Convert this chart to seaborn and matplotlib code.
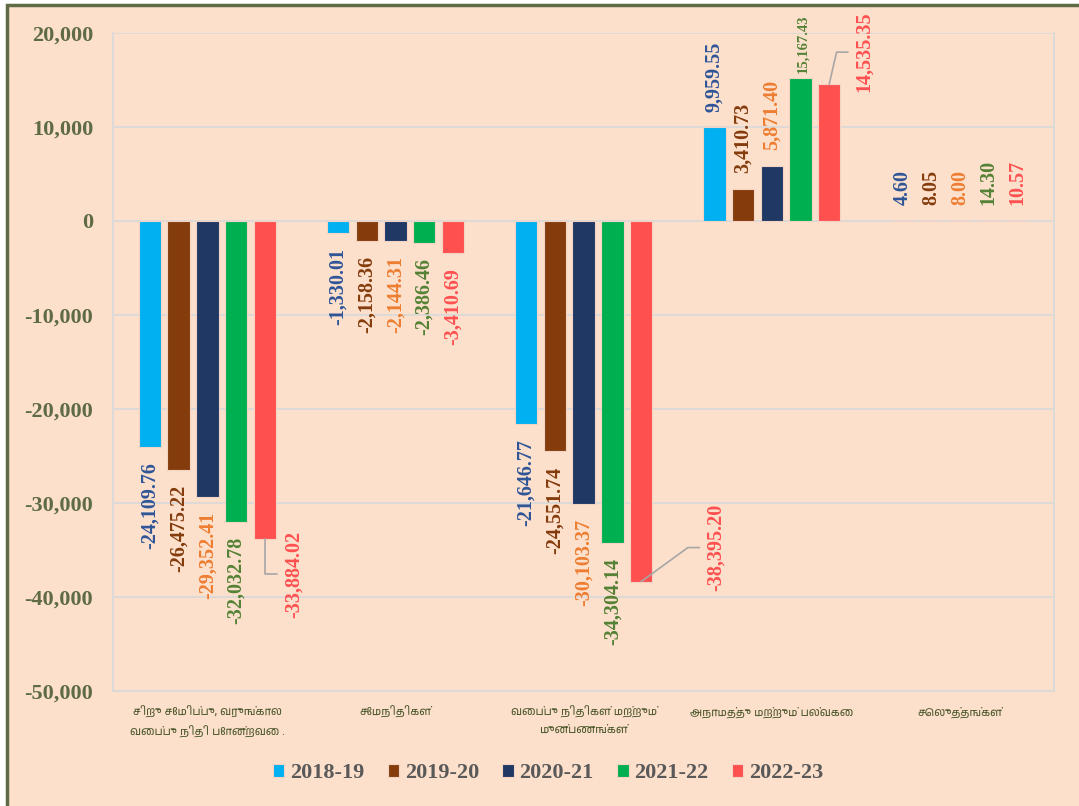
import matplotlib
matplotlib.use("Agg")
import matplotlib.pyplot as plt
import pandas as pd
import seaborn as sns
from matplotlib import font_manager
from matplotlib.ft2font import FT2Font
from matplotlib.patches import Rectangle
from matplotlib.ticker import FuncFormatter

# -----------------------------
# data
# -----------------------------
categories = [
    "சிறு சேமிப்பு, வருங்கால\nவைப்பு நிதி போன்றவை .",
    "சேமநிதிகள்",
    "வைப்பு நிதிகள் மற்றும்\nமுன்பணங்கள்",
    "அநாமத்து மற்றும் பல்வகை",
    "செலுத்தங்கள்",
]
years = ["2018-19", "2019-20", "2020-21", "2021-22", "2022-23"]
v_2018_19 = [-24109.76, -1330.01, -21646.77, 9959.55, 4.60]
v_2019_20 = [-26475.22, -2158.36, -24551.74, 3410.73, 8.05]
v_2020_21 = [-29352.41, -2144.31, -30103.37, 5871.40, 8.00]
v_2021_22 = [-32032.78, -2386.46, -34304.14, 15167.43, 14.30]
v_2022_23 = [-33884.02, -3410.69, -38395.20, 14535.35, 10.57]
series = [v_2018_19, v_2019_20, v_2020_21, v_2021_22, v_2022_23]

bar_colors = ["#00B0F0", "#843C0C", "#203864", "#00B050", "#FF5050"]
label_colors = ["#2F5597", "#843C0C", "#ED7D31", "#548235", "#FF5050"]
peach = "#FDE0CC"
olive = "#5E6B45"
grid_c = "#D9D9D9"

rows = []
for y, vals in zip(years, series):
    for c, v in zip(categories, vals):
        rows.append({"category": c, "year": y, "value": v})
df = pd.DataFrame(rows)

sns.set_style("white")
serif = ["Liberation Serif", "DejaVu Serif"]

# find a font that has Tamil glyphs, if any
tamil = []
for f in font_manager.fontManager.ttflist:
    try:
        if 0x0B9A in FT2Font(f.fname).get_charmap():
            tamil.append(f.name)
    except Exception:
        pass
tamil_family = sorted(set(tamil))[:1] + ["DejaVu Sans"]
plt.rcParams["font.family"] = serif

fig = plt.figure(figsize=(10.79, 8.06), dpi=100)
fig.patch.set_facecolor("white")
fig.add_artist(Rectangle((7.3 / 1079, -0.1), 1.2, 1.1 - 5 / 806,
                         transform=fig.transFigure, facecolor=peach,
                         edgecolor=olive, linewidth=2.5, zorder=0))
ax = fig.add_axes([113.3 / 1079, 1 - 690.7 / 806, 940.7 / 1079, 658 / 806])
ax.set_facecolor("none")

sns.barplot(data=df, x="category", y="value", hue="year", palette=bar_colors,
            saturation=1, width=0.763, gap=0.216, errorbar=None,
            edgecolor="#F3D3C3", linewidth=0.8, ax=ax, zorder=3)

ax.set_ylim(-50000, 20000)
ax.set_yticks(range(-50000, 20001, 10000))
ax.yaxis.set_major_formatter(FuncFormatter(lambda v, p: f"{v:,.0f}"))
ax.grid(axis="y", color=grid_c, linewidth=1.3, zorder=0)
ax.set_axisbelow(True)
for s in ax.spines.values():
    s.set_color(grid_c)
    s.set_linewidth(1.3)
ax.spines["top"].set_visible(False)
ax.tick_params(axis="both", length=0)
ax.tick_params(axis="y", pad=14.5)
ax.tick_params(axis="x", pad=11)
for t in ax.get_yticklabels():
    t.set_fontsize(16)
    t.set_fontweight("bold")
    t.set_color(olive)
for t in ax.get_xticklabels():
    t.set_family(tamil_family)
    t.set_fontsize(8)
    t.set_color("#4F5A2E")
    t.set_linespacing(1.75)
ax.set_xlabel("")
ax.set_ylabel("")

# manually moved labels: (dx, dy) of label and leader elbow, in points
moved = {
    (4, 0): dict(text=(21, 6), elbow=(9, -25), angle=90),
    (4, 2): dict(text=(54, 56), elbow=(42, 24.5), angle=36),
    (4, 3): dict(text=(25, -6), elbow=(13.5, 23), angle=77),
}

for i, cont in enumerate(ax.containers):
    for j, bar in enumerate(cont):
        val = series[i][j]
        x = bar.get_x() + bar.get_width() / 2
        small = (i, j) == (3, 3)
        size = 10.5 if small else 14.5
        txt = f"{val:,.2f}"
        if (i, j) in moved:
            m = moved[(i, j)]
            ax.annotate(txt, (x, val), xytext=m["text"], textcoords="offset points",
                        rotation=90, ha="center", va="top" if val < 0 else "bottom",
                        fontsize=size, fontweight="bold", color=label_colors[i])
            ax.annotate("", (x, val), xytext=m["elbow"], textcoords="offset points",
                        arrowprops=dict(arrowstyle="-", color="#A6A6A6", lw=1.2,
                                        shrinkA=0, shrinkB=0,
                                        connectionstyle=f"angle,angleA=0,angleB={m['angle']},rad=0"))
        else:
            off = 4 if small else (-11 if val < 0 else 11)
            ax.annotate(txt, (x, val), xytext=(2 if small else 0, off), textcoords="offset points",
                        rotation=90, ha="center", va="top" if val < 0 else "bottom",
                        fontsize=size, fontweight="bold", color=label_colors[i])

handles, labels = ax.get_legend_handles_labels()
ax.legend_.remove()
fig.legend(handles, labels, loc="center", bbox_to_anchor=(548 / 1079, 0.041), ncol=5,
           frameon=False, prop=dict(family=serif, weight="bold", size=16),
           labelcolor="#595959", handlelength=0.52, handleheight=0.52,
           handletextpad=0.25, columnspacing=1.05)

fig.savefig("out.png", dpi=100)
